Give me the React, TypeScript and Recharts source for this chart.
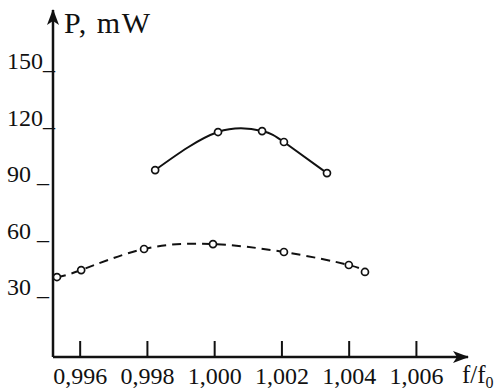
import { ComposedChart, Line, XAxis, YAxis } from "recharts";

// f/f0 values and power (mW)
const solidF = [0.99823, 1.0001, 1.00141, 1.00206, 1.00334];
const solidP = [97.4, 117.6, 118.1, 112.3, 95.8];

const dashedF = [0.99531, 0.99603, 0.9979, 0.99995, 1.00206, 1.00399, 1.00447];
const dashedP = [40.6, 44.3, 55.5, 58.1, 53.9, 47.0, 43.3];

const xTicks = [0.996, 0.998, 1.0, 1.002, 1.004, 1.006];
const yTicks = [30, 60, 90, 120, 150];

const FONT = '"Liberation Serif", "Times New Roman", Times, serif';
const INK = "#111";

const solidData = solidF.map((f, i) => ({ f, p: solidP[i] }));
const dashedData = dashedF.map((f, i) => ({ f, p: dashedP[i] }));

function fmtX(v: number): string {
  return v.toFixed(3).replace(".", ",");
}

function XTick(props: any) {
  const { x, y, payload } = props;
  return (
    <g>
      <line x1={x} x2={x} y1={y} y2={y - 16} stroke={INK} strokeWidth={2} />
      <text x={x} y={y + 27} textAnchor="middle" style={{ fontFamily: FONT, fontSize: 24 }} fill={INK}>
        {fmtX(payload.value)}
      </text>
    </g>
  );
}

function YTick(props: any) {
  const { x, y, payload } = props;
  const v = payload.value;
  const label = v >= 100 ? `${v}_` : `${v} _`;
  return (
    <text x={x - 46} y={y - 2} textAnchor="start" style={{ fontFamily: FONT, fontSize: 24, whiteSpace: "pre" }} fill={INK}>
      {label}
    </text>
  );
}

function Dot(props: any) {
  const { cx, cy } = props;
  if (cx == null || cy == null) return null;
  return <circle cx={cx} cy={cy} r={3.5} fill="#fff" stroke={INK} strokeWidth={1.7} />;
}

export default function App() {
  return (
    <div style={{ position: "absolute", left: 0, top: 0, width: 501, height: 390, background: "#fff" }}>
      <svg width={0} height={0} style={{ position: "absolute" }}>
        <defs>
          <marker id="arrowEnd" viewBox="0 0 16 12" refX={15} refY={6} markerWidth={16} markerHeight={12} markerUnits="userSpaceOnUse" orient="auto">
            <path d="M0,0 L16,6 L0,12 L4,6 z" fill={INK} />
          </marker>
          <marker id="arrowStart" viewBox="0 0 16 12" refX={15} refY={6} markerWidth={16} markerHeight={12} markerUnits="userSpaceOnUse" orient="auto-start-reverse">
            <path d="M0,0 L16,6 L0,12 L4,6 z" fill={INK} />
          </marker>
        </defs>
      </svg>
      <ComposedChart width={501} height={390} margin={{ top: 10, right: 33, bottom: 3, left: 0 }}>
        <XAxis
          dataKey="f"
          type="number"
          domain={[0.995192, 1.007534]}
          allowDataOverflow
          ticks={xTicks}
          tick={<XTick />}
          tickSize={0}
          tickMargin={0}
          tickLine={false}
          axisLine={{ stroke: INK, strokeWidth: 2.5, markerEnd: "url(#arrowEnd)" }}
          height={30}
          interval={0}
        />
        <YAxis
          type="number"
          domain={[-1.86, 182.4]}
          allowDataOverflow
          ticks={yTicks}
          tick={<YTick />}
          tickSize={0}
          tickMargin={0}
          tickLine={false}
          axisLine={{ stroke: INK, strokeWidth: 2.5, markerStart: "url(#arrowStart)" }}
          width={53}
          interval={0}
        />
        <Line
          data={solidData}
          dataKey="p"
          type="natural"
          stroke={INK}
          strokeWidth={2}
          dot={<Dot />}
          activeDot={false}
          isAnimationActive={false}
        />
        <Line
          data={dashedData}
          dataKey="p"
          type="natural"
          stroke={INK}
          strokeWidth={2}
          strokeDasharray="9 6"
          dot={<Dot />}
          activeDot={false}
          isAnimationActive={false}
        />
      </ComposedChart>
      <svg width={501} height={390} style={{ position: "absolute", left: 0, top: 0, pointerEvents: "none" }}>
        <text x={64} y={33} style={{ fontFamily: FONT, fontSize: 30, whiteSpace: "pre", letterSpacing: 1.5 }} fill={INK}>
          P, mW
        </text>
        <text x={462} y={383} style={{ fontFamily: FONT, fontSize: 25 }} fill={INK}>
          f/f
          <tspan style={{ fontSize: 16 }} dy={5}>0</tspan>
        </text>
      </svg>
    </div>
  );
}
